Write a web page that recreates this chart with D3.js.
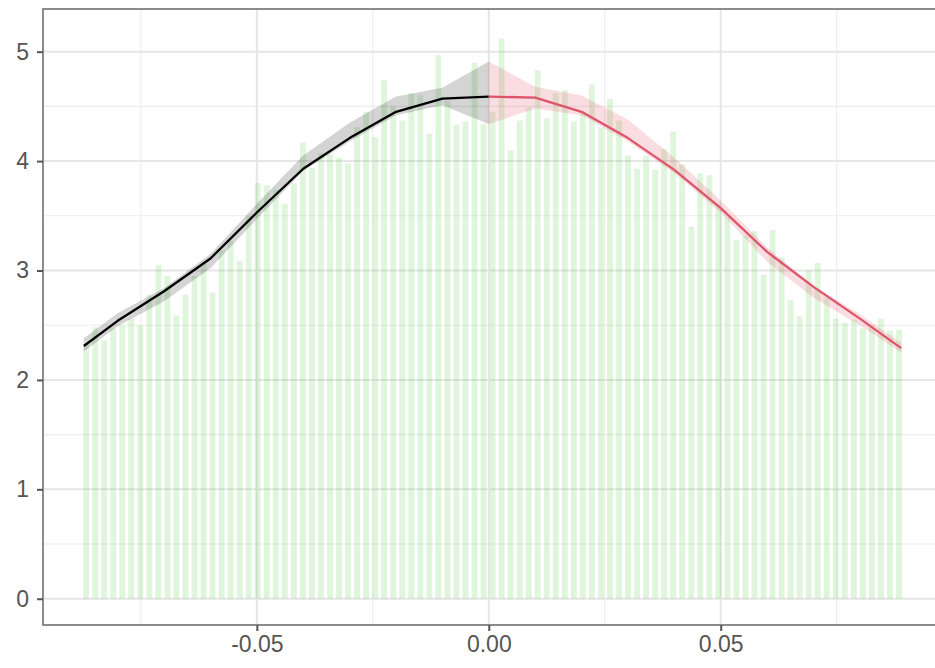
<!DOCTYPE html>
<html>
<head>
<meta charset="utf-8">
<script src="https://cdn.jsdelivr.net/npm/d3@7"></script>
<style>
  html, body { margin: 0; padding: 0; background: #ffffff; }
  svg { display: block; }
  .tick text { font-family: "Liberation Sans", Arial, sans-serif; }
</style>
</head>
<body>
<svg id="chart" width="935" height="668"></svg>
<script>
// Histogram bars: evenly spaced bin centres, one height per bin
const barStart = -0.0868;
const barStep = 0.001947;
const barHeights = [
  2.33, 2.48, 2.36, 2.47, 2.50, 2.56, 2.50, 2.78, 3.05, 2.95,
  2.59, 2.78, 2.95, 3.08, 2.80, 3.18, 3.27, 3.09, 3.50, 3.80,
  3.78, 3.74, 3.61, 3.80, 4.17, 3.94, 4.07, 4.06, 4.03, 3.98,
  4.31, 4.45, 4.22, 4.74, 4.50, 4.37, 4.62, 4.60, 4.25, 4.97,
  4.55, 4.33, 4.36, 4.90, 4.34, 4.45, 5.12, 4.10, 4.37, 4.49,
  4.83, 4.39, 4.62, 4.65, 4.36, 4.45, 4.70, 4.31, 4.57, 4.37,
  4.05, 3.93, 4.05, 3.92, 4.11, 4.27, 3.97, 3.40, 3.89, 3.87,
  3.61, 3.49, 3.28, 3.32, 3.36, 2.96, 3.37, 3.12, 2.73, 2.58,
  3.00, 3.07, 2.75, 2.56, 2.52, 2.55, 2.47, 2.50, 2.56, 2.45,
  2.46
];

// Left-hand fit (x < 0): line and confidence band
const leftX  = [-0.0873, -0.08, -0.07, -0.06, -0.05, -0.04, -0.03, -0.02, -0.01, 0];
const leftY  = [2.31, 2.54, 2.81, 3.11, 3.53, 3.93, 4.21, 4.45, 4.57, 4.59];
const leftLo = [2.26, 2.49, 2.72, 3.02, 3.47, 3.91, 4.18, 4.42, 4.51, 4.34];
const leftHi = [2.38, 2.61, 2.84, 3.15, 3.61, 4.05, 4.35, 4.59, 4.67, 4.91];

// Right-hand fit (x > 0): line and confidence band
const rightX  = [0, 0.01, 0.02, 0.03, 0.04, 0.05, 0.06, 0.07, 0.08, 0.0889];
const rightY  = [4.59, 4.58, 4.45, 4.21, 3.92, 3.57, 3.17, 2.85, 2.56, 2.29];
const rightLo = [4.34, 4.48, 4.42, 4.18, 3.89, 3.53, 3.08, 2.75, 2.50, 2.25];
const rightHi = [4.91, 4.68, 4.60, 4.38, 4.03, 3.64, 3.21, 2.86, 2.60, 2.34];

// Axis ticks
const xTicks = [-0.05, 0, 0.05];
const xTickLabels = ["-0.05", "0.00", "0.05"];
const xMinor = [-0.075, -0.025, 0.025, 0.075];
const yTicks = [0, 1, 2, 3, 4, 5];
const yMinor = [0.5, 1.5, 2.5, 3.5, 4.5];

const panel = { left: 43, top: 9, right: 942, bottom: 625 };

const x = d3.scaleLinear().domain([-0.0961, 0.0977]).range([panel.left, panel.right]);
const y = d3.scaleLinear().domain([-0.24, 5.39]).range([panel.bottom, panel.top]);

const svg = d3.select("#chart");

// Grid
const grid = svg.append("g");
grid.selectAll(".ymin").data(yMinor).join("line")
  .attr("x1", panel.left).attr("x2", panel.right)
  .attr("y1", d => y(d)).attr("y2", d => y(d))
  .attr("stroke", "#ececec").attr("stroke-width", 1.1);
grid.selectAll(".xmin").data(xMinor).join("line")
  .attr("y1", panel.top).attr("y2", panel.bottom)
  .attr("x1", d => x(d)).attr("x2", d => x(d))
  .attr("stroke", "#ececec").attr("stroke-width", 1.1);
grid.selectAll(".ymaj").data(yTicks).join("line")
  .attr("x1", panel.left).attr("x2", panel.right)
  .attr("y1", d => y(d)).attr("y2", d => y(d))
  .attr("stroke", "#e6e6e6").attr("stroke-width", 2);
grid.selectAll(".xmaj").data(xTicks).join("line")
  .attr("y1", panel.top).attr("y2", panel.bottom)
  .attr("x1", d => x(d)).attr("x2", d => x(d))
  .attr("stroke", "#e6e6e6").attr("stroke-width", 2);

// Bars
const bars = barHeights.map((h, i) => ({ x: barStart + i * barStep, h }));
const barW = barStep * 0.64;
svg.append("g").selectAll("rect").data(bars).join("rect")
  .attr("x", d => x(d.x - barW / 2))
  .attr("width", d => x(d.x + barW / 2) - x(d.x - barW / 2))
  .attr("y", d => y(d.h))
  .attr("height", d => y(0) - y(d.h))
  .attr("fill", "#61D04F")
  .attr("fill-opacity", 0.2);

// Confidence bands
const band = (xs, lo, hi) => xs.map((v, i) => ({ x: v, lo: lo[i], hi: hi[i] }));
const area = d3.area().x(d => x(d.x)).y0(d => y(d.lo)).y1(d => y(d.hi));
svg.append("path").datum(band(leftX, leftLo, leftHi))
  .attr("d", area).attr("fill", "#000000").attr("fill-opacity", 0.17);
svg.append("path").datum(band(rightX, rightLo, rightHi))
  .attr("d", area).attr("fill", "#DF536B").attr("fill-opacity", 0.2);

// Fitted lines
const pts = (xs, ys) => xs.map((v, i) => [v, ys[i]]);
const line = d3.line().x(d => x(d[0])).y(d => y(d[1]));
svg.append("path").datum(pts(leftX, leftY))
  .attr("d", line).attr("fill", "none").attr("stroke", "#000000")
  .attr("stroke-width", 2.3).attr("stroke-linejoin", "round");
svg.append("path").datum(pts(rightX, rightY))
  .attr("d", line).attr("fill", "none").attr("stroke", "#DF536B")
  .attr("stroke-width", 2.3).attr("stroke-linejoin", "round");

// Panel border
svg.append("rect")
  .attr("x", panel.left).attr("y", panel.top)
  .attr("width", panel.right - panel.left).attr("height", panel.bottom - panel.top)
  .attr("fill", "none").attr("stroke", "#808080").attr("stroke-width", 1.8);

// Axes
const yAxis = svg.append("g")
  .attr("transform", `translate(${panel.left},0)`)
  .call(d3.axisLeft(y).tickValues(yTicks).tickFormat(d3.format("d")).tickSize(6).tickPadding(8));
const xAxis = svg.append("g")
  .attr("transform", `translate(0,${panel.bottom})`)
  .call(d3.axisBottom(x).tickValues(xTicks).tickFormat((d, i) => xTickLabels[i]).tickSize(6).tickPadding(5));

[yAxis, xAxis].forEach(a => {
  a.select(".domain").remove();
  a.selectAll(".tick line").attr("stroke", "#555555").attr("stroke-width", 2);
  a.selectAll(".tick text").attr("fill", "#555555").attr("font-size", 23);
});
</script>
</body>
</html>
